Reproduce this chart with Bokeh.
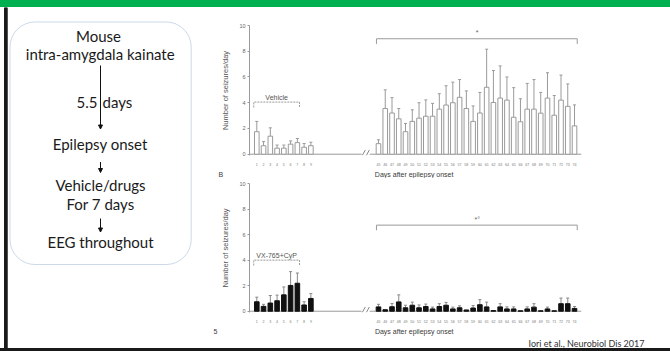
from bokeh.plotting import figure
from bokeh.layouts import column, row
from bokeh.models import (Range1d, FixedTicker, Label, BoxAnnotation, Arrow, Div, Title,
                          NormalHead, Whisker, TeeHead, ColumnDataSource)
from bokeh.core.properties import value
from bokeh.embed import file_html
from bokeh.resources import INLINE

# ---------------- data ----------------
early_days = ["1", "2", "3", "4", "5", "6", "7", "8", "9"]
late_days = ["45", "46", "47", "48", "49", "50", "51", "52", "53", "54",
             "55", "56", "57", "58", "59", "60", "61", "62", "63", "64",
             "65", "66", "67", "68", "69", "70", "71", "72", "73", "74"]

vehicle_early_mean = [1.75, 0.66, 1.40, 0.47, 0.47, 0.78, 0.90, 0.54, 0.66]
vehicle_early_sem = [0.80, 0.32, 0.65, 0.24, 0.24, 0.25, 0.32, 0.29, 0.27]
vehicle_late_mean = [0.82, 3.55, 3.20, 2.75, 1.75, 2.55, 2.80, 2.95, 2.95, 3.50,
                     3.82, 4.00, 4.42, 3.55, 2.55, 3.20, 5.20, 4.02, 4.36, 4.20,
                     2.87, 2.52, 3.50, 3.50, 3.19, 4.36, 3.03, 4.20, 3.72, 2.20]
vehicle_late_sem = [0.30, 1.45, 1.20, 0.80, 0.64, 0.90, 1.20, 1.27, 1.00, 1.20,
                    1.50, 1.60, 1.38, 1.37, 1.20, 1.60, 2.96, 2.48, 2.50, 1.80,
                    2.30, 1.79, 2.00, 2.30, 1.61, 1.97, 1.53, 1.95, 1.74, 1.63]

treated_early_mean = [0.74, 0.38, 0.64, 0.82, 1.28, 2.02, 2.19, 0.49, 1.00]
treated_early_sem = [0.36, 0.16, 0.59, 0.44, 0.62, 1.08, 0.80, 0.25, 0.38]
treated_late_mean = [0.34, 0.12, 0.35, 0.73, 0.27, 0.47, 0.27, 0.37, 0.18, 0.37,
                     0.47, 0.18, 0.27, 0.10, 0.25, 0.51, 0.34, 0.05, 0.34, 0.18,
                     0.18, 0.03, 0.18, 0.32, 0.03, 0.18, 0.03, 0.59, 0.59, 0.22]
treated_late_sem = [0.20, 0.00, 0.25, 0.55, 0.20, 0.24, 0.22, 0.19, 0.14, 0.22,
                    0.22, 0.14, 0.15, 0.00, 0.19, 0.40, 0.37, 0.00, 0.25, 0.16,
                    0.16, 0.00, 0.16, 0.27, 0.00, 0.14, 0.00, 0.44, 0.44, 0.15]

y_ticks = [0, 2, 4, 6, 8, 10]

flow_texts = ["Mouse", "intra-amygdala kainate", "Epilepsy onset",
              "Vehicle/drugs", "For 7 days", "EEG throughout"]
x_title = "Days after epilepsy onset"
citation = "Iori et al., Neurobiol Dis 2017"

# ---------------- geometry helpers ----------------
early_pos = [i + 1 for i in range(len(early_days))]
late_pos = [len(early_days) + 10 + i for i in range(len(late_days))]
X_START, X_END = -0.08, 49.18
Y_START, Y_END = -0.1, 10
ARIAL = "Liberation Sans"
GRAY = "#9a9a9a"
NB = "\u00a0"


def chart(height, b_top, b_bottom, e_mean, e_sem, l_mean, l_sem,
          fill, line, err_col, treat_label, treat_y, star_label, star_y):
    p = figure(width=465, height=height, x_range=Range1d(X_START, X_END),
               y_range=Range1d(Y_START, Y_END), toolbar_location=None,
               output_backend="svg", min_border_left=44, min_border_right=88,
               min_border_top=b_top, min_border_bottom=b_bottom,
               outline_line_color=None)
    p.grid.visible = False

    ya = p.yaxis[0]
    ya.ticker = FixedTicker(ticks=y_ticks)
    ya.axis_line_color = GRAY
    ya.major_tick_line_color = GRAY
    ya.major_tick_out = 2
    ya.major_tick_in = 0
    ya.minor_tick_line_color = None
    ya.major_label_text_font_size = "5.5px"
    ya.major_label_text_color = "#666"
    ya.major_label_text_font = ARIAL
    ya.major_label_standoff = 2
    ya.axis_label = "Number of seizures/day"
    ya.axis_label_text_font = ARIAL
    ya.axis_label_text_font_size = "7.5px"
    ya.axis_label_text_font_style = "normal"
    ya.axis_label_text_color = "#555"
    ya.axis_label_standoff = 6

    xa = p.xaxis[0]
    positions = early_pos + late_pos
    xa.ticker = FixedTicker(ticks=positions)
    xa.major_label_overrides = {pos: lab for pos, lab in zip(positions, early_days + late_days)}
    xa.axis_line_color = None
    xa.major_tick_line_color = None
    xa.minor_tick_line_color = None
    xa.major_label_text_font_size = "3.6px"
    xa.major_label_text_color = "#777"
    xa.major_label_text_font = ARIAL
    xa.major_label_standoff = 1

    # baseline with axis break
    p.segment(x0=[X_START, 17.7], y0=[0, 0], x1=[16.5, 49.0], y1=[0, 0],
              line_color=GRAY, line_width=1)
    p.segment(x0=[16.6, 17.2], y0=[-0.1, -0.1], x1=[17.05, 17.65], y1=[0.33, 0.33],
              line_color="#888", line_width=1)

    means = e_mean + l_mean
    sems = e_sem + l_sem
    p.vbar(x=positions, top=means, bottom=0, width=0.68,
           fill_color=fill, line_color=line, line_width=1)

    xs = [x for x, s in zip(positions, sems) if s > 0]
    lo = [m for m, s in zip(means, sems) if s > 0]
    up = [m + s for m, s in zip(means, sems) if s > 0]
    src = ColumnDataSource(dict(x=xs, lower=lo, upper=up))
    p.add_layout(Whisker(source=src, base="x", lower="lower", upper="upper",
                         line_color=err_col, line_width=1,
                         upper_head=TeeHead(size=3, line_color=err_col, line_width=1),
                         lower_head=None))

    # treatment bracket (dashed)
    tx0, tx1 = early_pos[0] - 0.45, early_pos[6] + 0.32
    p.line(x=[tx0, tx0, tx1, tx1], y=[treat_y - 0.42, treat_y, treat_y, treat_y - 0.42],
           line_color=GRAY, line_width=1, line_dash="2 1")
    p.add_layout(Label(x=(tx0 + tx1) / 2, y=treat_y + 0.38, text=treat_label,
                       text_align="center", text_baseline="middle",
                       text_font=ARIAL, text_font_size="7px", text_color="#555"))

    # significance bracket
    sx0, sx1 = late_pos[0] - 0.3, late_pos[-1] + 0.4
    p.line(x=[sx0, sx0, sx1, sx1], y=[star_y - 0.4, star_y, star_y, star_y - 0.4],
           line_color=GRAY, line_width=1)
    p.add_layout(Label(x=(sx0 + sx1) / 2 + 0.05, y=star_y + 0.45, text=star_label,
                       text_align="center", text_baseline="middle",
                       text_font=ARIAL, text_font_size="7px", text_color="#666"))
    return p


def below_title(p, text, offset, font, size, color, standoff=0):
    p.add_layout(Title(text=text, align="left", offset=offset, standoff=standoff,
                       text_font=font, text_font_size=size, text_color=color,
                       text_font_style="normal"), "below")


top = chart(171, 18, 16, vehicle_early_mean, vehicle_early_sem,
            vehicle_late_mean, vehicle_late_sem, "white", GRAY, GRAY,
            "Vehicle", 4.05, "*", 8.97)
below_title(top, "B" + NB * 78 + x_title, -31, ARIAL, "7px", "#3a3a3a", 1)

bottom = chart(170, 5, 27, treated_early_mean, treated_early_sem,
               treated_late_mean, treated_late_sem, "#111111", "#111111", "#888",
               "VX-765+CyP", 4.0, "*\u00b0", 6.74)
below_title(bottom, "5" + NB * 81 + x_title, -36, ARIAL, "7px", "#3a3a3a", 1)
below_title(bottom, citation, 279, "Lato", "9px", "#333", 0)

# ---------------- left panel (slide flow box) ----------------
left = figure(width=205, height=341, x_range=Range1d(0, 205), y_range=Range1d(348, 7),
              toolbar_location=None, output_backend="svg", min_border=0,
              x_axis_type=None, y_axis_type=None, outline_line_color=None)
left.grid.visible = False
left.quad(left=[4], right=[6.7], top=[7], bottom=[348], color="#1a1a1a")
left.add_layout(BoxAnnotation(left=9.5, right=190.7, top=21.5, bottom=264,
                              fill_color=None, line_color="#5b82b6", line_width=1,
                              border_radius=25))
left.text(x=[98, 99.7, 99.7, 100, 100, 100], y=[35, 53.3, 143.3, 184.3, 203.3, 241.7],
          text=flow_texts, text_align="center", text_baseline="middle",
          text_font=value("Lato"), text_font_size="15px", text_color="#1a1a1a")
left.text(x=[97], y=[101.7], text=["5.5"], text_align="right", text_baseline="middle",
          text_font=value("Lato"), text_font_size="15px", text_color="#1a1a1a")
left.text(x=[102], y=[101.7], text=["days"], text_align="left", text_baseline="middle",
          text_font=value("Lato"), text_font_size="15px", text_color="#1a1a1a")
for y0, y1 in [(65, 128.5), (161.5, 172), (218, 231.5)]:
    left.add_layout(Arrow(x_start=100, y_start=y0, x_end=100, y_end=y1,
                          line_color="#111", line_width=1,
                          end=NormalHead(size=4, fill_color="#111", line_color="#111")))

# ---------------- header / footer strips ----------------
header = Div(text="", width=670, height=7, margin=0,
             styles={"background-color": "#00B050"})
footer = Div(text="", width=670, height=3, margin=0,
             styles={"background-color": "#1a1a1a"})

p = column(header, row(left, column(top, bottom, spacing=0), spacing=0), footer, spacing=0)

open("out.html", "w").write(file_html(p, INLINE))
